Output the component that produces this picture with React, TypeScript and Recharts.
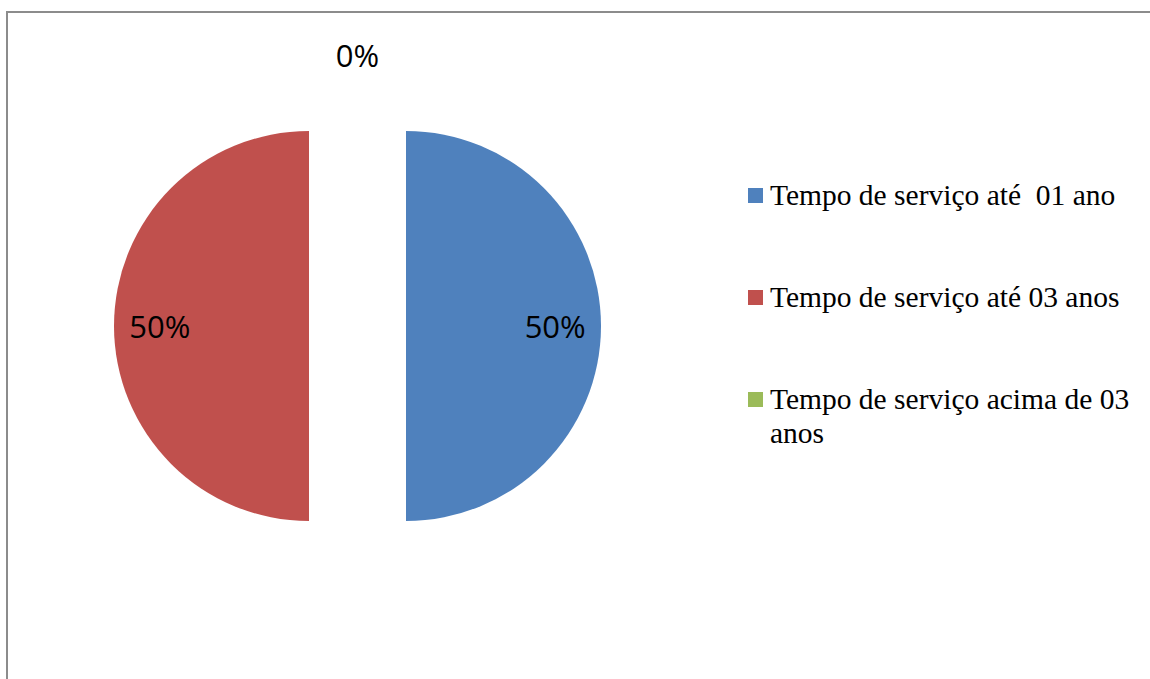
import { PieChart, Pie, Cell } from 'recharts';

const categories = [
  'Tempo de serviço até  01 ano',
  'Tempo de serviço até 03 anos',
  'Tempo de serviço acima de 03 anos',
];
const shares = [50, 50, 0];
const colors = ['#4F81BD', '#C0504D', '#9BBB59'];

const data = categories.map((name, i) => ({ name, value: shares[i] }));

const RAD = Math.PI / 180;
const CX = 357.5;
const CY = 326;
const R = 195;
const EXPLODE = 48.5;

// label renderer: only draws the labels for the given slice indexes
const makeLabel = (show: number[]) => (props: any) => {
  const { cx, cy, midAngle, outerRadius, value, index } = props;
  if (!show.includes(index)) return null;
  const r = value === 0 ? outerRadius + 76 : outerRadius * 0.765;
  const x = cx + r * Math.cos(-midAngle * RAD);
  const y = cy + r * Math.sin(-midAngle * RAD);
  return (
    <text
      x={x}
      y={y}
      fill="#000"
      textAnchor="middle"
      dominantBaseline="central"
      style={{ fontFamily: 'Open Sans', fontSize: 31 }}
    >
      {`${value}%`}
    </text>
  );
};

const LegendBox = () => (
  <div
    style={{
      position: 'absolute',
      left: 748,
      top: 178,
      width: 395,
      fontFamily: '"Liberation Serif", "Times New Roman", serif',
      fontSize: 29.5,
      lineHeight: '34px',
      color: '#000',
    }}
  >
    {categories.map((c, i) => (
      <div key={c} style={{ display: 'flex', alignItems: 'flex-start', marginBottom: i < categories.length - 1 ? 68 : 0 }}>
        <div style={{ width: 15, height: 15, background: colors[i], marginTop: 10, marginRight: 7, flexShrink: 0 }} />
        <div style={{ width: 365, whiteSpace: 'pre-wrap' }}>{c}</div>
      </div>
    ))}
  </div>
);

const slicePie = (visible: number, cx: number) => (
  <Pie
    key={visible}
    data={data}
    dataKey="value"
    cx={cx}
    cy={CY}
    outerRadius={R}
    startAngle={90}
    endAngle={-270}
    stroke="none"
    labelLine={false}
    label={makeLabel([visible])}
    isAnimationActive={false}
  >
    {data.map((d, i) => (
      <Cell key={d.name} fill={i === visible ? colors[i] : 'none'} />
    ))}
  </Pie>
);

export default function App() {
  return (
    <>
      <style>{'html, body { margin: 0; padding: 0; overflow: hidden; }'}</style>
      <div style={{ position: 'relative', width: 1150, height: 679, overflow: 'hidden', background: '#fff' }}>
        {/* chart frame: only top and left edges fall inside the picture */}
        <div
          style={{
            position: 'absolute',
            left: 6,
            top: 11,
            width: 1144,
            height: 668,
            borderTop: '2px solid #8c8c8c',
            borderLeft: '2px solid #8c8c8c',
          }}
        />
        <div style={{ position: 'absolute', left: 0, top: 0 }}>
          <PieChart width={1150} height={679} margin={{ top: 0, right: 0, bottom: 0, left: 0 }}>
            {slicePie(0, CX + EXPLODE)}
            {slicePie(1, CX - EXPLODE)}
            {slicePie(2, CX)}
          </PieChart>
        </div>
        <LegendBox />
      </div>
    </>
  );
}
